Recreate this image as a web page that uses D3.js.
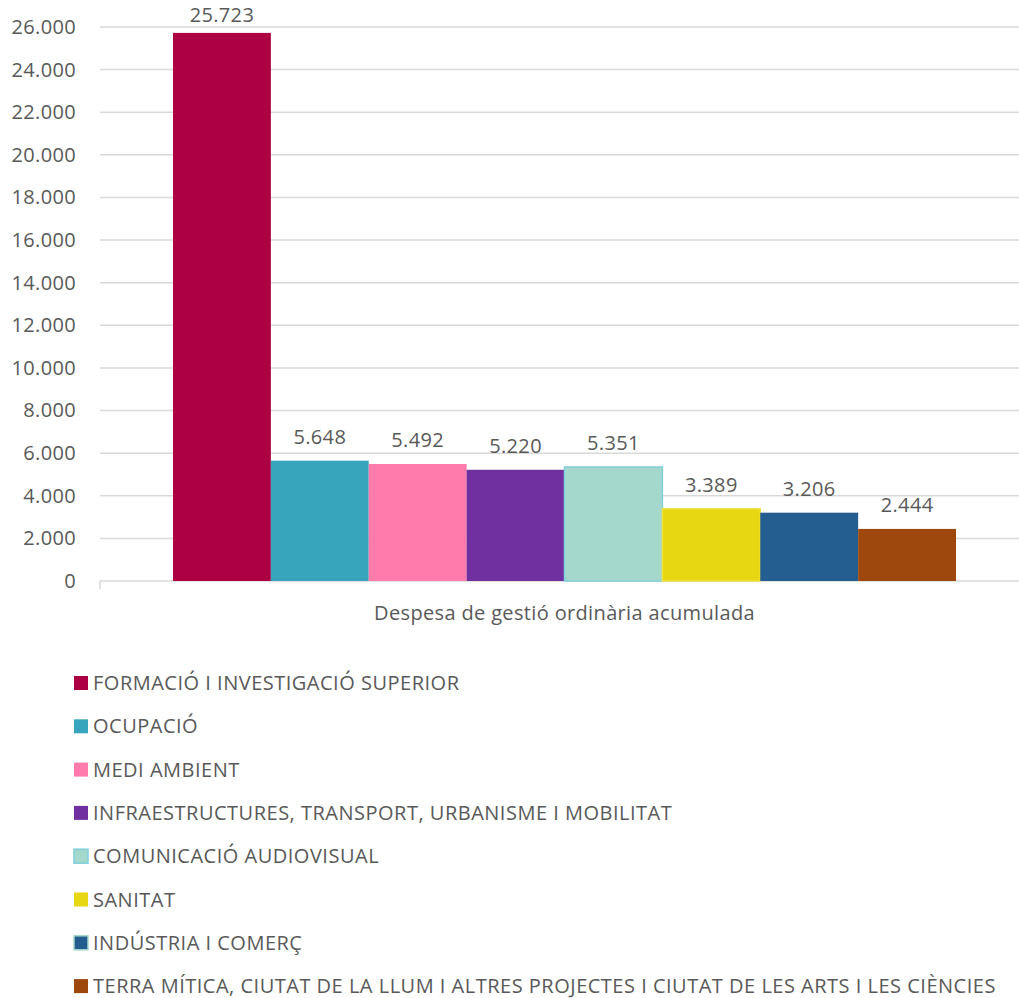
<!DOCTYPE html>
<html>
<head>
<meta charset="utf-8">
<script src="https://cdn.jsdelivr.net/npm/d3@7"></script>
<style>
  body { margin: 0; background: #fff; }
  svg text { font-family: "Open Sans", "Noto Sans", sans-serif; fill: #595959; font-size: 20px; letter-spacing: 0.35px; }
  .legend text { letter-spacing: 0.5px; }
</style>
</head>
<body>
<svg id="chart"></svg>
<script>
var width = 1019, height = 998;

// data
var category = "Despesa de gestió ordinària acumulada";
var seriesNames = [
	"FORMACIÓ I INVESTIGACIÓ SUPERIOR",
	"OCUPACIÓ",
	"MEDI AMBIENT",
	"INFRAESTRUCTURES, TRANSPORT, URBANISME I MOBILITAT",
	"COMUNICACIÓ AUDIOVISUAL",
	"SANITAT",
	"INDÚSTRIA I COMERÇ",
	"TERRA MÍTICA, CIUTAT DE LA LLUM I ALTRES PROJECTES I CIUTAT DE LES ARTS I LES CIÈNCIES"
];
var seriesValues = [25723, 5648, 5492, 5220, 5351, 3389, 3206, 2444];
var yTicks = [0, 2000, 4000, 6000, 8000, 10000, 12000, 14000, 16000, 18000, 20000, 22000, 24000, 26000];

var colors = ["#AC0042", "#37A5BC", "#FF7BAC", "#7030A0", "#A5D8CC", "#E6D712", "#245E91", "#9E480E"];
var strokes = ["none", "none", "none", "none", "#80CFDC", "#F0E040", "none", "none"];
var legendStrokes = ["none", "none", "none", "none", "#80CFDC", "none", "#A5D8CC", "none"];

var plotLeft = 100, plotRight = 1019, plotTop = 27, plotBottom = 581;

var fmt = function(v){ return d3.format(",")(v).replace(/,/g, "."); };

var svg = d3.select("#chart")
	.attr("width", width)
	.attr("height", height);

var yScale = d3.scaleLinear().domain([0, 26000]).range([plotBottom, plotTop]);

// x: one category, bars split inside it (plot area runs a bit past the right edge)
var xCat = d3.scaleBand().domain([category]).range([plotLeft, 1029]).paddingInner(0).paddingOuter(0.0932);
var xSeries = d3.scaleBand().domain(d3.range(seriesNames.length)).range([0, xCat.bandwidth()]).padding(0);

// gridlines
svg.append("g")
	.selectAll("line")
	.data(yTicks)
	.enter().append("line")
	.attr("x1", plotLeft)
	.attr("x2", plotRight)
	.attr("y1", function(d){ return yScale(d); })
	.attr("y2", function(d){ return yScale(d); })
	.style("stroke", "#D9D9D9")
	.style("stroke-width", 1.5);

// y axis labels
var yAxis = d3.axisLeft(yScale).tickValues(yTicks).tickFormat(fmt).tickSize(0).tickPadding(0);
var yg = svg.append("g").attr("transform", "translate(76,0)").call(yAxis);
yg.select(".domain").remove();
yg.attr("font-size", null).attr("font-family", null);

// bottom tick at the left
svg.append("line")
	.attr("x1", plotLeft).attr("x2", plotLeft)
	.attr("y1", plotBottom).attr("y2", plotBottom + 8)
	.style("stroke", "#D9D9D9").style("stroke-width", 1.5);

// bars
var bars = svg.append("g");
bars.selectAll("rect")
	.data(seriesValues)
	.enter().append("rect")
	.attr("x", function(d, i){ return xCat(category) + xSeries(i); })
	.attr("width", xSeries.bandwidth())
	.attr("y", function(d){ return yScale(d); })
	.attr("height", function(d){ return yScale(0) - yScale(d); })
	.style("fill", function(d, i){ return colors[i]; })
	.style("stroke", function(d, i){ return strokes[i]; })
	.style("stroke-width", 1.5);

// value labels
bars.selectAll("text")
	.data(seriesValues)
	.enter().append("text")
	.attr("x", function(d, i){ return xCat(category) + xSeries(i) + xSeries.bandwidth()/2; })
	.attr("y", function(d){ return Math.max(yScale(d) - 24, 15); })
	.attr("dy", "0.35em")
	.attr("text-anchor", "middle")
	.text(fmt);

// category label
svg.append("text")
	.attr("x", xCat(category) + xCat.bandwidth()/2)
	.attr("y", 613)
	.attr("dy", "0.35em")
	.attr("text-anchor", "middle")
	.text(category);

// legend
var legend = svg.append("g").attr("class", "legend").attr("transform", "translate(74,683)");
var rows = legend.selectAll("g")
	.data(seriesNames)
	.enter().append("g")
	.attr("transform", function(d, i){ return "translate(0," + (i * 43.3) + ")"; });
rows.append("rect")
	.attr("x", 0).attr("y", -7)
	.attr("width", 14).attr("height", 14)
	.style("fill", function(d, i){ return colors[i]; })
	.style("stroke", function(d, i){ return legendStrokes[i]; })
	.style("stroke-width", 1.5);
rows.append("text")
	.attr("x", 19)
	.attr("dy", "0.35em")
	.text(function(d){ return d; });
</script>
</body>
</html>
